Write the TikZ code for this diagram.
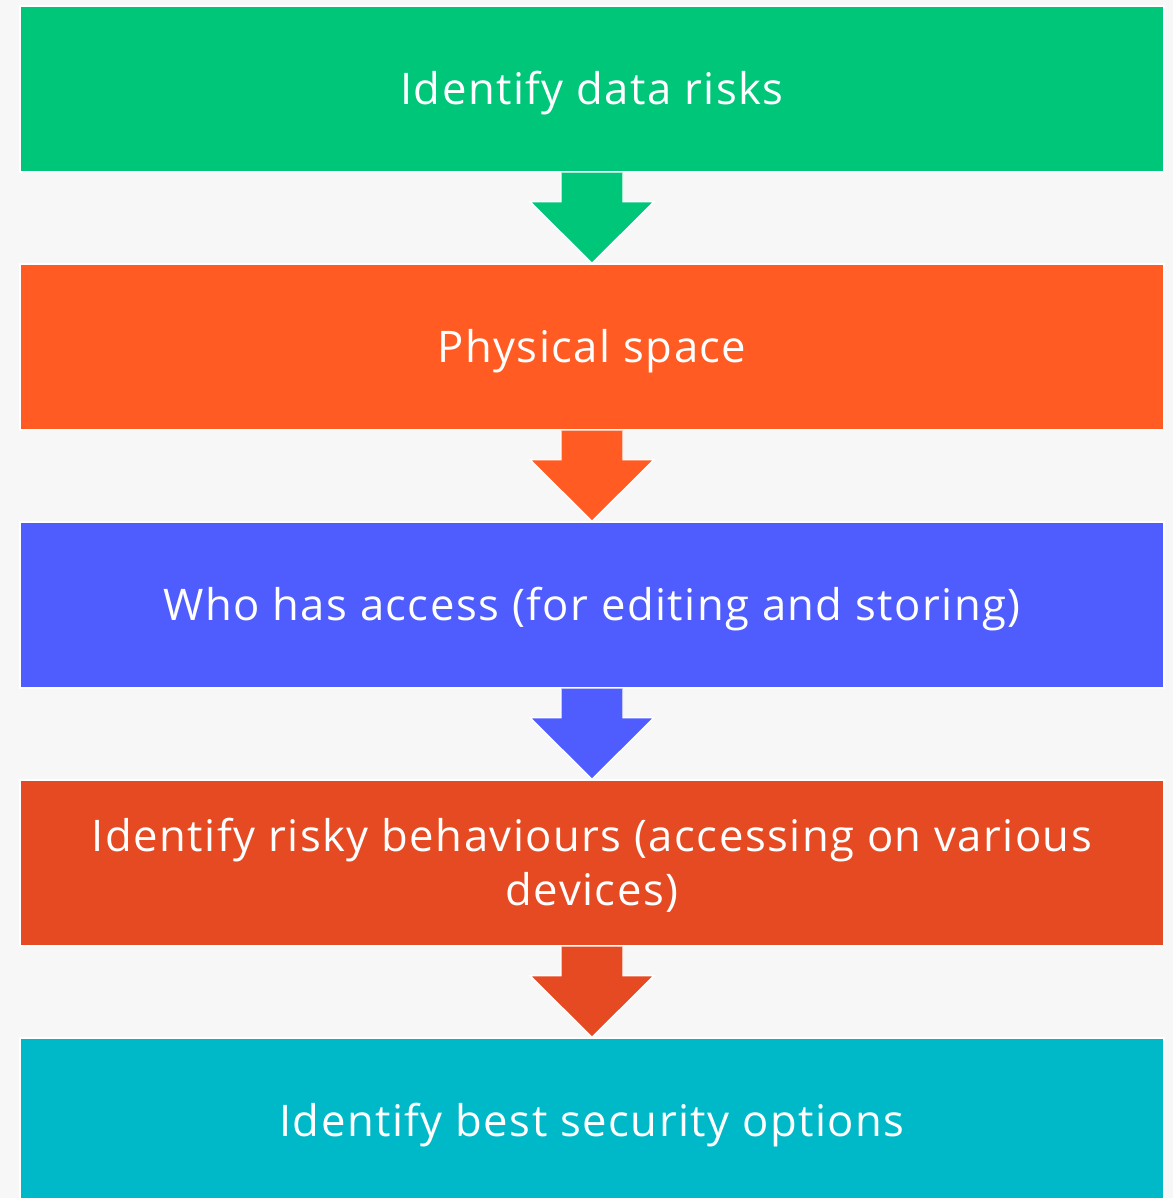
\documentclass[tikz,border=0pt]{standalone}
\usepackage{fontspec}
\setmainfont{Open Sans}[LetterSpace=3.4]
\usetikzlibrary{calc}

\definecolor{bggray}{HTML}{F7F7F7}
\definecolor{stepgreen}{HTML}{00C67A}
\definecolor{steporange}{HTML}{FF5B22}
\definecolor{stepblue}{HTML}{4F5DFF}
\definecolor{stepred}{HTML}{E64A22}
\definecolor{stepcyan}{HTML}{00B9C8}

\tikzset{
  box/.style={rectangle, draw=white, line width=1pt, minimum width=28.6cm,
    minimum height=4.15cm, inner sep=0pt, text=white, align=center,
    text height=22pt, text depth=0pt, font=\fontsize{31}{39}\selectfont},
  flow/.style={draw=white, line width=1pt, line join=miter}
}

\begin{document}
\begin{tikzpicture}[x=0.025cm, y=-0.025cm]
        \fill [bggray] (0,0) rectangle (1173,1198);
        \useasboundingbox (0,0) rectangle (1173,1198);
        \clip (0,0) rectangle (1173,1198);
        \node [box, fill=stepgreen] (risks) at (592,89) {Identify data risks};
        \node [box, fill=steporange] (space) at (592,347) {Physical space};
        \node [box, fill=stepblue] (access) at (592,605) {Who has access (for editing and storing)};
        \node [box, fill=stepred, text height=61pt] (behave) at (592,863) {Identify risky behaviours (accessing on various\\devices)};
        \node [box, fill=stepcyan] (options) at (592,1121) {Identify best security options};
        \foreach \a/\b/\c in {risks/space/stepgreen, space/access/steporange,
                              access/behave/stepblue, behave/options/stepred}
          \filldraw [flow, fill=\c] ($(\a.south)+(-31,0)$) -- ($(\a.south)+(-31,29)$)
            -- ($(\a.south)+(-62,29)$) -- (\b.north) -- ($(\a.south)+(62,29)$)
            -- ($(\a.south)+(31,29)$) -- ($(\a.south)+(31,0)$);
      \end{tikzpicture}
\end{document}
